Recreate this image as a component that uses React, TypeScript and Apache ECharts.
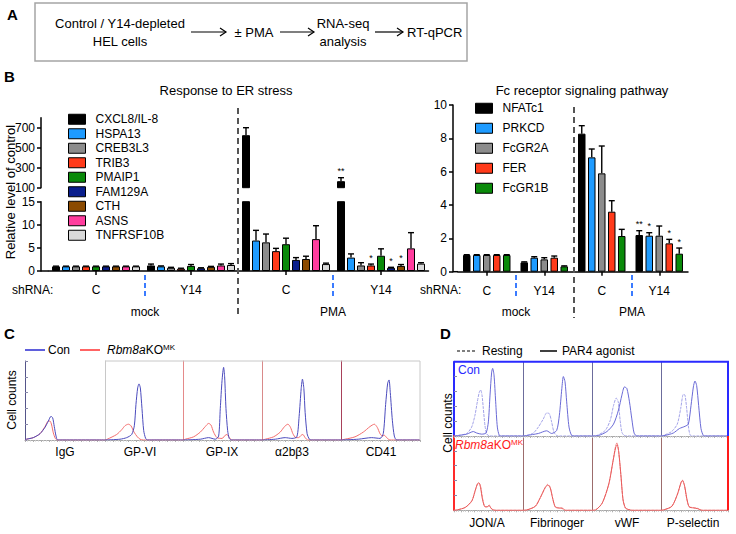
import React, { useEffect, useRef } from 'react';
import * as echarts from 'echarts';

// ---------- Panel B data ----------
const groupLabels = ['C', 'Y14', 'C', 'Y14'];

const erGenes = ['CXCL8/IL-8', 'HSPA13', 'CREB3L3', 'TRIB3', 'PMAIP1', 'FAM129A', 'CTH', 'ASNS', 'TNFRSF10B'];
const erColors = ['#000000', '#1e9bff', '#8c8c8c', '#ff3a1a', '#0a8a0a', '#0a1e8c', '#8b4a00', '#ff3d9e', '#d9d9d9'];
const erMockC = [1, 1, 1, 1, 1, 1, 1, 1, 1];
const erMockCErr = [0.05, 0.05, 0.05, 0.05, 0.05, 0.05, 0.05, 0.05, 0.05];
const erMockY14 = [1.2, 1.0, 0.7, 0.5, 1.1, 0.6, 0.9, 1.2, 1.3];
const erMockY14Err = [0.3, 0.1, 0.1, 0.1, 0.3, 0.1, 0.1, 0.3, 0.3];
const erPmaC = [625, 6.6, 6.2, 4.3, 5.8, 2.4, 2.6, 6.9, 1.5];
const erPmaCErr = [75, 2.2, 1.8, 0.6, 1.3, 0.5, 0.6, 2.9, 0.2];
const erPmaY14 = [165, 2.9, 1.2, 1.2, 3.3, 0.7, 1.1, 4.9, 1.6];
const erPmaY14Err = [35, 0.8, 0.6, 0.3, 1.5, 0.1, 0.3, 3.4, 0.2];
const erPmaY14Sig = ['**', '', '', '*', '', '*', '*', '', ''];

const fcGenes = ['NFATc1', 'PRKCD', 'FcGR2A', 'FER', 'FcGR1B'];
const fcColors = ['#000000', '#1e9bff', '#8c8c8c', '#ff3a1a', '#0a8a0a'];
const fcMockC = [1, 1, 1, 1, 1];
const fcMockCErr = [0.02, 0.02, 0.02, 0.02, 0.02];
const fcMockY14 = [0.56, 0.84, 0.74, 0.84, 0.32];
const fcMockY14Err = [0.03, 0.06, 0.1, 0.1, 0.03];
const fcPmaC = [8.28, 6.86, 5.9, 3.6, 2.14];
const fcPmaCErr = [0.48, 0.5, 1.64, 0.66, 0.4];
const fcPmaY14 = [2.2, 2.16, 2.16, 1.7, 1.08];
const fcPmaY14Err = [0.26, 0.18, 0.58, 0.24, 0.34];
const fcPmaY14Sig = ['**', '*', '', '*', '*'];

// ---------- Panel C histograms (x: 0-100 fluorescence, y: 0-100 counts) ----------
const cPanels = ['IgG', 'GP-VI', 'GP-IX', 'α2bβ3', 'CD41'];
const cIgGCon = [[0, 0], [2, 1], [10.4, 3], [18.8, 8], [25, 16], [29.2, 24], [32.5, 30], [34.6, 28], [36.6, 17], [38.8, 5], [40.9, 0], [100, 0]];
const cIgGKo = [[0, 0], [2, 1], [10.4, 3], [18.8, 8], [25, 17], [29.2, 24], [31.2, 24], [33.3, 19], [35.4, 9], [37.9, 2], [40.4, 0], [100, 0]];
const cGp6Con = [[0, 0], [19.2, 1], [27.8, 3], [34.2, 7], [37.6, 18], [39.7, 45], [41.9, 66], [43.6, 71], [45.3, 66], [47.4, 40], [49.6, 12], [52.1, 2], [54.7, 0], [100, 0]];
const cGp6Ko = [[0, 0], [2.9, 1], [15, 7], [21.4, 13], [25.6, 18], [29.9, 20], [33.3, 18], [37.2, 10], [41.5, 4], [44.9, 1], [49.1, 0], [100, 0]];
const cGp9Con = [[0, 0], [21.9, 1], [32.4, 3], [40.9, 1], [45.1, 5], [47.2, 40], [49.4, 75], [51.4, 92], [52.7, 80], [54.4, 40], [56.5, 12], [58.6, 2], [61.1, 0], [100, 0]];
const cGp9Ko = [[0, 0], [2.9, 1], [13.4, 4], [21.9, 10], [28.2, 17], [32.4, 21], [35.4, 19], [38.7, 10], [43, 3], [49.4, 2], [53.5, 6], [55.7, 7], [58.6, 3], [62, 0], [100, 0]];
const cItgCon = [[0, 0], [16.8, 1], [29.4, 3], [37.8, 2], [44.1, 4], [47, 30], [49.6, 65], [51.2, 77], [53, 65], [54.6, 35], [57.1, 8], [60, 1], [63, 0], [100, 0]];
const cItgKo = [[0, 0], [4.2, 1], [14.6, 4], [23.1, 10], [28.5, 17], [32.8, 20], [36.1, 16], [39.1, 8], [42.9, 3], [46.2, 3], [49.6, 6], [51.7, 7], [54.6, 3], [58, 0], [100, 0]];
const cCd41Con = [[0, 0], [21.9, 1], [38.8, 3], [49.4, 2], [53.5, 8], [56.5, 45], [59.1, 72], [60.8, 76], [62.4, 60], [65, 25], [67.5, 5], [70.5, 0], [100, 0]];
const cCd41Ko = [[0, 0], [5.1, 1], [17.7, 4], [28.2, 10], [36.7, 17], [42.2, 20], [45.9, 16], [49.4, 8], [52.3, 5], [54.8, 6], [57.8, 3], [62, 0], [100, 0]];
const cConCurves = [cIgGCon, cGp6Con, cGp9Con, cItgCon, cCd41Con];
const cKoCurves = [cIgGKo, cGp6Ko, cGp9Ko, cItgKo, cCd41Ko];

// ---------- Panel D histograms ----------
const dPanels = ['JON/A', 'Fibrinoger', 'vWF', 'P-selectin'];
const dJonConRest = [[0, 0], [6.3, 0.7], [18.4, 3.4], [25.6, 12], [30.4, 28], [33.8, 46], [36.7, 59], [38.7, 62], [40.6, 55], [42.5, 37], [44.9, 14], [47.3, 3], [51.2, 0], [100, 0]];
const dJonConPar4 = [[0, 0], [6.3, 0.7], [18.4, 2.5], [28, 6], [32.9, 4], [40.1, 2.5], [46.4, 4], [49.8, 19], [52.2, 55], [54.6, 86], [56, 91], [58, 82], [60.4, 46], [62.8, 12], [65.7, 0.7], [69, 0], [100, 0]];
const dFibConRest = [[0, 0], [5.3, 0.7], [15, 4], [22.2, 12], [29.5, 23], [34.3, 31], [38.2, 30], [41.5, 19], [44.9, 5], [48.8, 0.7], [53.6, 0], [100, 0]];
const dFibConPar4 = [[0, 0], [5.3, 0.7], [22.2, 3.4], [34.3, 7], [41.5, 3.4], [48.8, 7.5], [52.7, 28], [56.3, 64], [58.5, 80], [60.9, 73], [63.3, 46], [66.7, 12], [70.6, 0.7], [75.4, 0], [100, 0]];
const dVwfConRest = [[0, 0], [7.2, 0.7], [19.2, 7.5], [26.4, 21], [31.2, 41], [35.1, 51], [38, 46], [40.8, 21], [43.3, 5], [46.6, 0.7], [50.5, 0], [100, 0]];
const dVwfConPar4 = [[0, 0], [9.6, 0.7], [21.6, 6], [31.2, 16], [38.4, 35], [43.3, 55], [47, 66], [50.5, 64], [54.3, 46], [57.7, 23], [61, 4], [64.9, 0], [100, 0]];
const dPselConRest = [[0, 0], [3.5, 0.7], [15.9, 6], [24.3, 16], [29.4, 37], [33.3, 56], [35.8, 55], [38.3, 37], [40.8, 14], [43.3, 1.6], [47.3, 0], [100, 0]];
const dPselConPar4 = [[0, 0], [6, 0.7], [18.4, 4], [27.4, 10], [35.8, 13], [40.8, 16], [44.8, 41], [48.3, 66], [50.7, 74], [53.2, 68], [56.2, 41], [59.7, 10], [63.2, 0.7], [67.2, 0], [100, 0]];
const dJonKoRest = [[0, 0], [3.9, 0.4], [15.9, 3.6], [25.6, 12], [30.4, 25], [33.8, 35], [36.7, 36], [38.7, 32], [41.5, 16], [44.9, 5], [48.3, 5], [51.2, 7], [53.6, 3], [57, 0.4], [60, 0], [100, 0]];
const dJonKoPar4 = [[0, 0], [4.5, 0.5], [16.5, 4], [26, 13], [30.8, 27], [34.2, 36], [36.2, 37], [38.4, 31], [41.2, 15], [44.5, 5], [48, 4.5], [50.8, 6.5], [53.8, 2.5], [57.5, 0.4], [61, 0], [100, 0]];
const dFibKoRest = [[0, 0], [5.3, 0.4], [17.4, 5], [24.6, 16], [31.9, 30], [35.8, 35], [39.1, 32], [43, 16], [46.4, 5], [51.2, 3.6], [56, 2.7], [60.9, 0], [100, 0]];
const dFibKoPar4 = [[0, 0], [5.8, 0.5], [18, 5.5], [25, 17], [32.4, 31], [36.1, 34], [39.5, 30], [43.3, 15], [46.8, 4.5], [51.5, 3], [56.5, 3], [61.5, 0], [100, 0]];
const dVwfKoRest = [[0, 0], [4.8, 0.4], [14.4, 9], [24, 34], [30.3, 65], [34.1, 86], [36.1, 91], [38.4, 81], [41.8, 48], [44.7, 16], [48.1, 3.6], [52.8, 1], [57.7, 0], [100, 0]];
const dVwfKoPar4 = [[0, 0], [5.2, 0.5], [15, 10], [24.5, 36], [30.6, 67], [34.4, 85], [36.5, 88], [38.8, 78], [42.1, 45], [45, 14], [48.5, 3], [53.2, 1], [58, 0], [100, 0]];
const dPselKoRest = [[0, 0], [3.5, 0.4], [15.9, 5], [24.3, 21], [29.4, 36], [31.8, 41], [34.8, 34], [38.3, 16], [41.8, 5], [48.3, 3.6], [54.3, 2.7], [60.9, 0], [100, 0]];
const dPselKoPar4 = [[0, 0], [4, 0.5], [16.3, 5.5], [24.7, 22], [29.8, 37], [32.2, 40], [35.2, 33], [38.7, 15], [42.2, 4.5], [48.7, 3.2], [54.7, 2.2], [61.3, 0], [100, 0]];
const dConRest = [dJonConRest, dFibConRest, dVwfConRest, dPselConRest];
const dConPar4 = [dJonConPar4, dFibConPar4, dVwfConPar4, dPselConPar4];
const dKoRest = [dJonKoRest, dFibKoRest, dVwfKoRest, dPselKoRest];
const dKoPar4 = [dJonKoPar4, dFibKoPar4, dVwfKoPar4, dPselKoPar4];

// ---------- styling / layout ----------
const FONT = '"Liberation Sans", Arial, Helvetica, sans-serif';
const BLUE_H = '#4b4bbd';
const RED_H = '#f26d6d';

function buildOption() {
  const grids: any[] = [];
  const xAxes: any[] = [];
  const yAxes: any[] = [];
  const series: any[] = [];
  const graphic: any[] = [];

  const blackLine = { color: '#000', width: 1.5 };

  // grid 0: B-left top (broken axis upper part)
  grids.push({ left: 48.5, top: 117.7, width: 380, height: 70 });
  // grid 1: B-left bottom
  grids.push({ left: 48.5, top: 201.7, width: 380, height: 69.3 });
  // grid 2: B-right
  grids.push({ left: 458, top: 105, width: 230, height: 166.7 });

  xAxes.push({ type: 'category', gridIndex: 0, data: groupLabels, show: false });
  yAxes.push({
    type: 'value', gridIndex: 0, min: 100, max: 800, offset: 7.5,
    axisLine: { show: true, lineStyle: blackLine },
    axisTick: { show: true, length: 4, lineStyle: blackLine, customValues: [100, 300, 500, 700] },
    axisLabel: { customValues: [100, 300, 500, 700], color: '#000', fontSize: 12, margin: 6, fontFamily: FONT },
    splitLine: { show: false },
  });
  const catAxis = (gi: number) => ({
    type: 'category', gridIndex: gi, data: groupLabels,
    axisLine: { show: true, lineStyle: blackLine },
    axisTick: { show: true, alignWithLabel: true, length: 4, lineStyle: blackLine },
    axisLabel: { color: '#000', fontSize: 12, margin: 13, fontFamily: FONT },
    splitLine: { show: false },
  });
  xAxes.push(catAxis(1));
  yAxes.push({
    type: 'value', gridIndex: 1, min: 0, max: 15, interval: 5, offset: 7.5,
    axisLine: { show: true, lineStyle: blackLine },
    axisTick: { show: true, length: 4, lineStyle: blackLine },
    axisLabel: { color: '#000', fontSize: 12, margin: 6, fontFamily: FONT },
    splitLine: { show: false },
  });
  xAxes.push(catAxis(2));
  yAxes.push({
    type: 'value', gridIndex: 2, min: 0, max: 10, interval: 2, offset: 5,
    axisLine: { show: true, lineStyle: blackLine },
    axisTick: { show: true, length: 4, lineStyle: blackLine },
    axisLabel: { color: '#000', fontSize: 12, margin: 6, fontFamily: FONT },
    splitLine: { show: false },
  });

  // ---- B-left bars ----
  const erGroups = [erMockC, erMockY14, erPmaC, erPmaY14];
  const erErrs = [erMockCErr, erMockY14Err, erPmaCErr, erPmaY14Err];
  erGenes.forEach((g, k) => {
    const vals = erGroups.map((grp) => grp[k]);
    const common = {
      type: 'bar', name: g, barWidth: 8, barGap: '25%', clip: true, silent: true,
      itemStyle: { color: erColors[k], borderColor: '#000', borderWidth: 1 },
    };
    series.push({ ...common, xAxisIndex: 0, yAxisIndex: 0, data: vals.map((v) => (v > 100 ? v : '-')) });
    series.push({ ...common, xAxisIndex: 1, yAxisIndex: 1, data: vals });
  });

  const makeErr = (xi: number, yi: number, items: any[], n: number, pitch: number) => ({
    type: 'custom', xAxisIndex: xi, yAxisIndex: yi, coordinateSystem: 'cartesian2d', silent: true, z: 5,
    data: items.map((it) => [it.cat, it.v + it.e]),
    encode: { x: 0, y: 1 },
    renderItem: (params: any, api: any) => {
      const it = items[params.dataIndex];
      const p0 = api.coord([it.cat, it.v]);
      const p1 = api.coord([it.cat, it.v + it.e]);
      const x = p0[0] + (it.k - (n - 1) / 2) * pitch;
      const st = { stroke: '#000', lineWidth: 1.4 };
      const children: any[] = [
        { type: 'line', shape: { x1: x, y1: p0[1], x2: x, y2: p1[1] }, style: st },
        { type: 'line', shape: { x1: x - 3, y1: p1[1], x2: x + 3, y2: p1[1] }, style: st },
      ];
      if (it.sig) {
        children.push({
          type: 'text', x, y: p1[1] - 2,
          style: { text: it.sig, align: 'center', verticalAlign: 'bottom', fontSize: 9, fill: '#000', fontFamily: FONT },
        });
      }
      return { type: 'group', children };
    },
  });

  const erTop: any[] = [];
  const erBottom: any[] = [];
  erGroups.forEach((grp, cat) => {
    grp.forEach((v, k) => {
      const it = { cat, k, v, e: erErrs[cat][k], sig: cat === 3 ? erPmaY14Sig[k] : '' };
      if (v > 100) erTop.push(it);
      else erBottom.push(it);
    });
  });
  series.push(makeErr(0, 0, erTop, 9, 10));
  series.push(makeErr(1, 1, erBottom, 9, 10));

  // ---- B-right bars ----
  const fcGroups = [fcMockC, fcMockY14, fcPmaC, fcPmaY14];
  const fcErrs = [fcMockCErr, fcMockY14Err, fcPmaCErr, fcPmaY14Err];
  fcGenes.forEach((g, k) => {
    series.push({
      type: 'bar', name: g, barWidth: 7.5, barGap: '33.3%', silent: true,
      xAxisIndex: 2, yAxisIndex: 2,
      itemStyle: { color: fcColors[k], borderColor: '#000', borderWidth: 1 },
      data: fcGroups.map((grp) => grp[k]),
    });
  });
  const fcItems: any[] = [];
  fcGroups.forEach((grp, cat) => {
    grp.forEach((v, k) => {
      fcItems.push({ cat, k, v, e: fcErrs[cat][k], sig: cat === 3 ? fcPmaY14Sig[k] : '' });
    });
  });
  series.push(makeErr(2, 2, fcItems, 5, 10));

  // ---- Panel C histogram grids ----
  const cLefts = [25, 105, 183, 262, 341];
  const cWidths = [80, 78, 79, 79, 79];
  const cLeftColors = ['#55558a', '#c8c8c8', '#e58a8a', '#d98a8a', '#a8415a'];
  const histX = (gi: number) => ({
    type: 'value', gridIndex: gi, min: 0, max: 100, interval: 10,
    axisLine: { show: true, lineStyle: { color: '#a8a8a8', width: 1.2 } },
    axisTick: { show: true, length: 2, lineStyle: { color: '#b0b0b0' } },
    minorTick: { show: true, splitNumber: 3, length: 1.5, lineStyle: { color: '#c8c8c8' } },
    axisLabel: { show: false }, splitLine: { show: false },
  });
  const histY = (gi: number, color: string, ticks: boolean, width = 1) => ({
    type: 'value', gridIndex: gi, min: 0, max: 100, interval: 20,
    axisLine: { show: true, lineStyle: { color, width } },
    axisTick: { show: ticks, inside: true, length: 3, lineStyle: { color: '#8888aa' } },
    axisLabel: { show: false }, splitLine: { show: false },
  });
  cLefts.forEach((l, i) => {
    const gi = grids.length;
    grids.push({ left: l, top: 361, width: cWidths[i], height: 79 });
    xAxes.push(histX(gi));
    yAxes.push(histY(gi, cLeftColors[i], i === 0));
    series.push({
      type: 'line', xAxisIndex: gi, yAxisIndex: gi, data: cKoCurves[i], symbol: 'none', smooth: 0.25, silent: true,
      lineStyle: { color: RED_H, width: 1 },
    });
    series.push({
      type: 'line', xAxisIndex: gi, yAxisIndex: gi, data: cConCurves[i], symbol: 'none', smooth: 0.25, silent: true,
      lineStyle: { color: BLUE_H, width: 1 },
    });
  });

  // ---- Panel D histogram grids ----
  const dLefts = [454, 523, 592, 661];
  const dWidths = [69, 69, 69, 67];
  dLefts.forEach((l, i) => {
    const gi = grids.length;
    grids.push({ left: l, top: 361.7, width: dWidths[i], height: 74.3 });
    xAxes.push(histX(gi));
    yAxes.push(histY(gi, i === 0 ? '#2a2aff' : '#6c6c9c', i === 0, i === 0 ? 2 : 1));
    series.push({
      type: 'line', xAxisIndex: gi, yAxisIndex: gi, data: dConRest[i], symbol: 'none', smooth: 0.25, silent: true,
      lineStyle: { color: '#a3a3e8', width: 1, type: [3, 1] },
    });
    series.push({
      type: 'line', xAxisIndex: gi, yAxisIndex: gi, data: dConPar4[i], symbol: 'none', smooth: 0.25, silent: true,
      lineStyle: { color: '#6a6ad6', width: 1 },
    });
  });
  dLefts.forEach((l, i) => {
    const gi = grids.length;
    grids.push({ left: l, top: 436, width: dWidths[i], height: 74.3 });
    xAxes.push(histX(gi));
    yAxes.push(histY(gi, i === 0 ? '#ff2a2a' : '#9c6c6c', i === 0, i === 0 ? 2 : 1));
    series.push({
      type: 'line', xAxisIndex: gi, yAxisIndex: gi, data: dKoRest[i], symbol: 'none', smooth: 0.25, silent: true,
      lineStyle: { color: '#f29090', width: 1, type: [3, 1] },
    });
    series.push({
      type: 'line', xAxisIndex: gi, yAxisIndex: gi, data: dKoPar4[i], symbol: 'none', smooth: 0.25, silent: true,
      lineStyle: { color: '#e85a5a', width: 1 },
    });
  });

  // ---------- graphics ----------
  const txt = (x: number, y: number, text: string, o: any = {}) => ({
    type: 'text', x, y, rotation: o.rotation || 0, z: 10,
    style: {
      text, fontSize: o.fontSize || 12, fontFamily: FONT, fill: o.fill || '#000',
      fontWeight: o.fontWeight || 'normal', fontStyle: o.fontStyle || 'normal',
      align: o.align || 'center', verticalAlign: o.verticalAlign || 'middle', rich: o.rich,
    },
  });
  const ln = (x1: number, y1: number, x2: number, y2: number, stroke: string, lineWidth = 1, lineDash?: number[]) => ({
    type: 'line', z: 10, shape: { x1, y1, x2, y2 }, style: { stroke, lineWidth, lineDash },
  });
  const arrow = (x1: number, x2: number, y: number) => ([
    ln(x1, y, x2, y, '#000', 1.2),
    { type: 'polyline', z: 10, shape: { points: [[x2 - 6, y - 4], [x2, y], [x2 - 6, y + 4]] }, style: { stroke: '#000', lineWidth: 1.2, fill: 'none' } },
  ]);

  // Panel A
  graphic.push(txt(7, 14, 'A', { fontSize: 15, fontWeight: 'bold', align: 'left' }));
  graphic.push({ type: 'rect', z: 10, shape: { x: 35, y: 3, width: 432, height: 58 }, style: { fill: 'none', stroke: '#a5a5a5', lineWidth: 1.5 } });
  graphic.push(txt(120, 23, 'Control / Y14-depleted', { fontSize: 13 }));
  graphic.push(txt(120, 41, 'HEL cells', { fontSize: 13 }));
  graphic.push(...arrow(191, 226, 32));
  graphic.push(txt(254, 32, '± PMA', { fontSize: 13 }));
  graphic.push(...arrow(280, 314, 32));
  graphic.push(txt(343, 23, 'RNA-seq', { fontSize: 13 }));
  graphic.push(txt(343, 41, 'analysis', { fontSize: 13 }));
  graphic.push(...arrow(375, 403, 32));
  graphic.push(txt(407, 32, 'RT-qPCR', { fontSize: 13, align: 'left' }));

  // Panel B
  graphic.push(txt(4, 76, 'B', { fontSize: 15, fontWeight: 'bold', align: 'left' }));
  graphic.push(txt(226, 90, 'Response to ER stress', { fontSize: 13 }));
  graphic.push(txt(582, 90, 'Fc receptor signaling pathway', { fontSize: 13 }));
  graphic.push(txt(10, 192, 'Relative level of control', { fontSize: 13, rotation: Math.PI / 2 }));
  graphic.push(ln(41, 271, 48.5, 271, '#000', 1.5));
  graphic.push(ln(453, 271.7, 458, 271.7, '#000', 1.5));
  graphic.push(ln(238, 108, 238, 318, '#555', 2, [6, 4]));
  graphic.push(ln(574, 107, 574, 318, '#555', 2, [6, 4]));
  [145, 333, 516, 632].forEach((x) => graphic.push(ln(x, 275, x, 298, '#3a7bff', 2, [5, 3])));
  graphic.push(txt(12, 290, 'shRNA:', { align: 'left' }));
  graphic.push(txt(420, 290, 'shRNA:', { align: 'left' }));
  graphic.push(txt(145, 312, 'mock'));
  graphic.push(txt(333, 312, 'PMA'));
  graphic.push(txt(516, 312, 'mock'));
  graphic.push(txt(632, 312, 'PMA'));

  // Panel C
  graphic.push(txt(4, 333, 'C', { fontSize: 15, fontWeight: 'bold', align: 'left' }));
  graphic.push(ln(25, 350, 45, 350, '#2a2ad0', 1.5));
  graphic.push(txt(48, 350, 'Con', { align: 'left' }));
  graphic.push(ln(80, 350, 100, 350, '#ff3030', 1.5));
  graphic.push(txt(107, 350, '{i|Rbm8a}KO{s|MK}', {
    align: 'left',
    rich: { i: { fontStyle: 'italic', fontSize: 12, fontFamily: FONT }, s: { fontSize: 8, fontFamily: FONT, verticalAlign: 'top', lineHeight: 14 } },
  }));
  graphic.push(ln(105, 361, 420, 361, '#c8c8c8', 1));
  graphic.push(ln(420, 361, 420, 440, '#c8c8c8', 1));
  graphic.push(txt(12, 400, 'Cell counts', { rotation: Math.PI / 2 }));
  const cLabelX = [65, 140, 222, 292, 381];
  cPanels.forEach((p, i) => graphic.push(txt(cLabelX[i], 452, p)));

  // Panel D
  graphic.push(txt(440, 333, 'D', { fontSize: 15, fontWeight: 'bold', align: 'left' }));
  graphic.push(ln(457, 351, 477, 351, '#000', 1.2, [3, 2]));
  graphic.push(txt(482, 351, 'Resting', { align: 'left' }));
  graphic.push(ln(540, 351, 557, 351, '#000', 1.5));
  graphic.push(txt(562, 351, 'PAR4 agonist', { align: 'left' }));
  graphic.push({ type: 'polyline', z: 10, shape: { points: [[454, 361.7], [728, 361.7], [728, 436]] }, style: { stroke: '#2a2aff', lineWidth: 2, fill: 'none' } });
  graphic.push(ln(728, 436, 728, 510.3, '#ff1a1a', 2));
  graphic.push(txt(458, 370, 'Con', { align: 'left', fill: '#2a2aff' }));
  graphic.push(txt(455, 445, '{i|Rbm8a}KO{s|MK}', {
    align: 'left', fill: '#ff1a1a',
    rich: { i: { fontStyle: 'italic', fontSize: 12, fill: '#ff1a1a', fontFamily: FONT }, s: { fontSize: 8, fill: '#ff1a1a', fontFamily: FONT, verticalAlign: 'top', lineHeight: 14 } },
  }));
  graphic.push(txt(448, 423, 'Cell counts', { rotation: Math.PI / 2 }));
  const dLabelX = [487, 557, 627, 693];
  dPanels.forEach((p, i) => graphic.push(txt(dLabelX[i], 523, p)));

  const legendCommon = {
    orient: 'vertical', icon: 'rect', itemWidth: 17, itemHeight: 10, selectedMode: false,
    itemStyle: { borderColor: '#000', borderWidth: 1 },
    textStyle: { fontSize: 12, color: '#000', fontFamily: FONT, lineHeight: 14.5, padding: [0, 0, 0, 5] },
    padding: 0,
  };

  return {
    animation: false,
    backgroundColor: '#fff',
    textStyle: { fontFamily: FONT },
    grid: grids,
    xAxis: xAxes,
    yAxis: yAxes,
    legend: [
      { ...legendCommon, left: 68, top: 112, itemGap: 0, data: erGenes },
      { ...legendCommon, left: 475, top: 101, itemGap: 5.5, data: fcGenes },
    ],
    series,
    graphic,
  };
}

export default function App() {
  const ref = useRef<HTMLDivElement>(null);
  useEffect(() => {
    if (!ref.current) return;
    const chart = echarts.init(ref.current, undefined, { renderer: 'svg' });
    chart.setOption(buildOption() as any);
    return () => chart.dispose();
  }, []);
  return <div ref={ref} style={{ position: 'fixed', left: 0, top: 0, width: 736, height: 534, background: '#fff' }} />;
}
